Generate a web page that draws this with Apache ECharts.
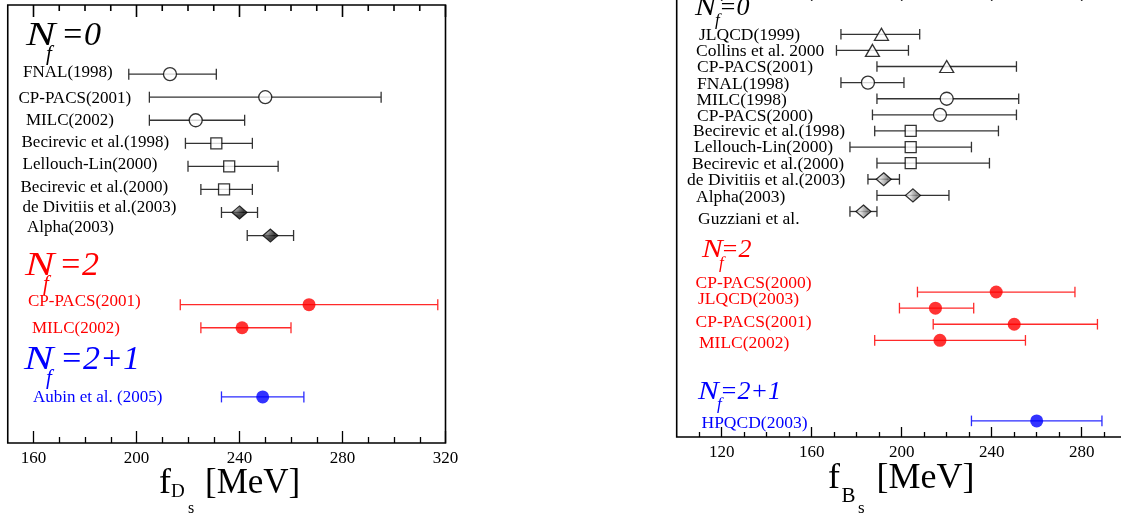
<!DOCTYPE html>
<html>
<head>
<meta charset="utf-8">
<title>f_Ds and f_Bs lattice results</title>
<script src="https://cdn.jsdelivr.net/npm/echarts@6/dist/echarts.min.js"></script>
<style>
  html, body { margin: 0; padding: 0; background: #fff; }
  #main { width: 1121px; height: 522px; }
</style>
</head>
<body>
<div id="main"></div>
<script>
// ---------- f_Ds (left panel), MeV ----------
const dsQuenchedNames = ['FNAL(1998)', 'CP-PACS(2001)', 'MILC(2002)', 'Becirevic et al.(1998)',
  'Lellouch-Lin(2000)', 'Becirevic et al.(2000)', 'de Divitiis et al.(2003)', 'Alpha(2003)'];
const dsQuenchedCentral = [213, 250, 223, 231, 236, 234, 240, 252];
const dsQuenchedLow     = [197, 205, 205, 219, 220, 225, 233, 243];
const dsQuenchedHigh    = [231, 295, 242, 245, 255, 245, 247, 261];
const dsQuenchedMarker  = ['circle', 'circle', 'circle', 'square', 'square', 'square', 'diamond', 'diamond'];
const dsQuenchedRow     = [3, 4, 5, 6, 7, 8, 9, 10];

const dsNf2Names   = ['CP-PACS(2001)', 'MILC(2002)'];
const dsNf2Central = [267, 241];
const dsNf2Low     = [217, 225];
const dsNf2High    = [317, 260];
const dsNf2Row     = [13, 14];

const dsNf21Names   = ['Aubin et al. (2005)'];
const dsNf21Central = [249];
const dsNf21Low     = [233];
const dsNf21High    = [265];
const dsNf21Row     = [17];

const dsMajorTicks = [160, 200, 240, 280, 320];
const dsMinorTicks = [170, 180, 190, 210, 220, 230, 250, 260, 270, 290, 300, 310];

// ---------- f_Bs (right panel), MeV ----------
const bsQuenchedNames = ['JLQCD(1999)', 'Collins et al. 2000', 'CP-PACS(2001)', 'FNAL(1998)', 'MILC(1998)',
  'CP-PACS(2000)', 'Becirevic et al.(1998)', 'Lellouch-Lin(2000)', 'Becirevic et al.(2000)',
  'de Divitiis et al.(2003)', 'Alpha(2003)', 'Guzziani et al.'];
const bsQuenchedCentral = [191, 187, 220, 185, 220, 217, 204, 204, 204, 192, 205, 183];
const bsQuenchedLow     = [173, 171, 189, 173, 189, 187, 188, 177, 189, 185, 189, 177];
const bsQuenchedHigh    = [208, 203, 251, 201, 252, 251, 243, 231, 239, 199, 221, 189];
const bsQuenchedMarker  = ['triangle', 'triangle', 'triangle', 'circle', 'circle', 'circle',
  'square', 'square', 'square', 'diamond', 'diamond', 'diamond'];
const bsQuenchedRow     = [2, 3, 4, 5, 6, 7, 8, 9, 10, 11, 12, 13];

const bsNf2Names   = ['CP-PACS(2000)', 'JLQCD(2003)', 'CP-PACS(2001)', 'MILC(2002)'];
const bsNf2Central = [242, 215, 250, 217];
const bsNf2Low     = [207, 199, 214, 188];
const bsNf2High    = [277, 232, 287, 255];
const bsNf2Row     = [18, 19, 20, 21];

const bsNf21Names   = ['HPQCD(2003)'];
const bsNf21Central = [260];
const bsNf21Low     = [231];
const bsNf21High    = [289];
const bsNf21Row     = [26];

const bsMajorTicks = [120, 160, 200, 240, 280];
const bsMinorTicks = [110, 130, 140, 150, 170, 180, 190, 210, 220, 230, 250, 260, 270, 290];

// ---------- layout and styling ----------
const SERIF = '"Liberation Serif", "DejaVu Serif", serif';
const BLACK = '#000';
const RED = '#ff0000';
const BLUE = '#0000ff';

// row ranges of the two panels (rows grow downwards)
const dsRowRange = [0, 19];
const bsRowRange = [-0.7, 27];

// label anchors (left edge, vertical middle) in pixels
const dsLabelPos = {
  quenched: [[23, 72.5], [18.5, 99], [26, 121], [21.5, 143], [22.5, 165], [20.5, 188], [22.5, 208], [27, 228]],
  nf2: [[28, 302], [32, 329]],
  nf21: [[33, 398]]
};
const bsLabelPos = {
  quenched: [[699, 35], [696, 51.5], [697, 67.5], [697, 84], [696.5, 100], [697, 116], [693, 131.5],
    [694, 147.5], [692, 164], [687, 180], [696, 197.5], [698, 219]],
  nf2: [[695.5, 283], [698, 299], [695.5, 322.5], [699, 343]],
  nf21: [[701.5, 423.5]]
};

function hatch(bg, fg, horiz) {
  const c = document.createElement('canvas');
  c.width = 3; c.height = 3;
  const g = c.getContext('2d');
  g.fillStyle = bg; g.fillRect(0, 0, 3, 3);
  g.fillStyle = fg; g.fillRect(0, 0, 1, 3);
  if (horiz) g.fillRect(0, 0, 3, 1);
  return c;
}
const darkHatch = { image: hatch('#9a9a9a', '#111', true), repeat: 'repeat' };
const lightHatch = { image: hatch('#e4e4e4', '#777', false), repeat: 'repeat' };

function markerItem(kind, value, hatchFill) {
  const open = { color: '#fff', borderColor: BLACK, borderWidth: 1.3 };
  if (kind === 'circle') return { value, symbol: 'circle', symbolSize: 13, itemStyle: open };
  if (kind === 'square') return { value, symbol: 'rect', symbolSize: 11, itemStyle: open };
  if (kind === 'triangle') return { value, symbol: 'triangle', symbolSize: [14, 12], itemStyle: open };
  return { value, symbol: 'diamond', symbolSize: [15, 13],
    itemStyle: { color: hatchFill, borderColor: BLACK, borderWidth: 1.2 } };
}

function errorBarRenderer(color, capHalf) {
  return function (params, api) {
    const row = api.value(2);
    const a = api.coord([api.value(0), row]);
    const b = api.coord([api.value(1), row]);
    const style = { stroke: color, lineWidth: 1.3, fill: null };
    return {
      type: 'group',
      children: [
        { type: 'line', shape: { x1: a[0], y1: a[1], x2: b[0], y2: b[1] }, style },
        { type: 'line', shape: { x1: a[0], y1: a[1] - capHalf, x2: a[0], y2: a[1] + capHalf }, style },
        { type: 'line', shape: { x1: b[0], y1: b[1] - capHalf, x2: b[0], y2: b[1] + capHalf }, style }
      ]
    };
  };
}

function errorSeries(low, high, rows, color, xi, yi, capHalf) {
  return {
    type: 'custom', xAxisIndex: xi, yAxisIndex: yi, z: 2, silent: true,
    renderItem: errorBarRenderer(color, capHalf),
    encode: { x: [0, 1], y: 2 },
    data: low.map((l, i) => [l, high[i], rows[i]])
  };
}

function markerSeries(central, rows, kinds, xi, yi, hatchFill) {
  return {
    type: 'scatter', xAxisIndex: xi, yAxisIndex: yi, z: 3, silent: true,
    data: central.map((c, i) => markerItem(kinds[i], [c, rows[i]], hatchFill))
  };
}

function filledSeries(central, rows, color, xi, yi, size) {
  return {
    type: 'scatter', xAxisIndex: xi, yAxisIndex: yi, z: 3, silent: true,
    symbol: 'circle', symbolSize: size, itemStyle: { color },
    data: central.map((c, i) => [c, rows[i]])
  };
}

function tickAxis(grid, min, max, values, len, withLabels) {
  return {
    type: 'value', gridIndex: grid, position: 'bottom', min, max,
    axisLine: { show: false, onZero: false },
    splitLine: { show: false },
    axisTick: { show: true, inside: true, length: len, customValues: values,
      lineStyle: { color: BLACK, width: 1.3 } },
    axisLabel: withLabels
      ? { show: true, customValues: values, margin: 7, color: BLACK, fontFamily: SERIF, fontSize: 17 }
      : { show: false }
  };
}

function textEl(str, x, y, size, color, italic, scaleX) {
  return {
    type: 'text', x, y, scaleX: scaleX || 1, silent: true,
    style: {
      text: str, fill: color, align: 'left', verticalAlign: 'middle',
      font: (italic ? 'italic ' : '') + size + 'px ' + SERIF
    }
  };
}

// "N_f = ..." heading: a wide N, lowered f, then the rest
function heading(rest, color, h) {
  return [
    textEl('N', h.nx, h.y, h.size, color, true, h.nscale),
    textEl('f', h.fx, h.fy, h.fsize, color, true),
    textEl(rest, h.rx, h.y, h.size, color, true)
  ];
}

function labelEls(names, pos, color, size) {
  return names.map((n, i) => textEl(n, pos[i][0], pos[i][1], size, color, false));
}

const textGraphics = [].concat(
  heading('=0', BLACK, { nx: 26, y: 36, size: 34, nscale: 1.3, fx: 46, fy: 54, fsize: 21, rx: 61 }),
  heading('=2', RED, { nx: 25, y: 266, size: 34, nscale: 1.3, fx: 43, fy: 284, fsize: 21, rx: 59 }),
  heading('=2+1', BLUE, { nx: 24, y: 360, size: 34, nscale: 1.3, fx: 46, fy: 378, fsize: 21, rx: 60 }),
  heading('=0', BLACK, { nx: 695, y: 8, size: 26, nscale: 1.2, fx: 715, fy: 21, fsize: 17, rx: 719 }),
  heading('=2', RED, { nx: 702, y: 250, size: 26, nscale: 1.2, fx: 719, fy: 264, fsize: 17, rx: 721 }),
  heading('=2+1', BLUE, { nx: 698, y: 392, size: 26, nscale: 1.2, fx: 717, fy: 405, fsize: 17, rx: 720 }),
  labelEls(dsQuenchedNames, dsLabelPos.quenched, BLACK, 17),
  labelEls(dsNf2Names, dsLabelPos.nf2, RED, 17),
  labelEls(dsNf21Names, dsLabelPos.nf21, BLUE, 17),
  labelEls(bsQuenchedNames, bsLabelPos.quenched, BLACK, 17.5),
  labelEls(bsNf2Names, bsLabelPos.nf2, RED, 17.5),
  labelEls(bsNf21Names, bsLabelPos.nf21, BLUE, 17.5),
  [
    // axis titles: f_{D_s} [MeV] and f_{B_s} [MeV]
    textEl('f', 159, 483.5, 36, BLACK, false),
    textEl('D', 171, 492, 19, BLACK, false),
    textEl('s', 188, 508.5, 16, BLACK, false),
    textEl('[MeV]', 205, 483.5, 35, BLACK, false),
    textEl('f', 828, 478.5, 36, BLACK, false),
    textEl('B', 841.5, 496, 21, BLACK, false),
    textEl('s', 858, 508.5, 17, BLACK, false),
    textEl('[MeV]', 876.5, 478.5, 36, BLACK, false)
  ]
);

const option = {
  backgroundColor: '#fff',
  animation: false,
  grid: [
    { left: 7.75, top: 5, width: 437.75, height: 438, show: true, borderColor: BLACK, borderWidth: 1.6,
      backgroundColor: 'transparent', containLabel: false, outerBoundsMode: 'none' },
    { left: 676.7, top: -9.2, width: 450, height: 446.2, show: true, borderColor: BLACK, borderWidth: 1.6,
      backgroundColor: 'transparent', containLabel: false, outerBoundsMode: 'none' }
  ],
  xAxis: [
    tickAxis(0, 150, 320, dsMajorTicks, 12, true),
    tickAxis(0, 150, 320, dsMinorTicks, 6, false),
    tickAxis(1, 100, 300, bsMajorTicks, 10, true),
    tickAxis(1, 100, 300, bsMinorTicks, 5, false)
  ],
  yAxis: [
    { type: 'value', gridIndex: 0, min: dsRowRange[0], max: dsRowRange[1], inverse: true, show: false },
    { type: 'value', gridIndex: 1, min: bsRowRange[0], max: bsRowRange[1], inverse: true, show: false }
  ],
  series: [
    errorSeries(dsQuenchedLow, dsQuenchedHigh, dsQuenchedRow, '#333', 0, 0, 5.5),
    markerSeries(dsQuenchedCentral, dsQuenchedRow, dsQuenchedMarker, 0, 0, darkHatch),
    errorSeries(dsNf2Low, dsNf2High, dsNf2Row, '#ff2a2a', 0, 0, 5.5),
    filledSeries(dsNf2Central, dsNf2Row, RED, 0, 0, 13),
    errorSeries(dsNf21Low, dsNf21High, dsNf21Row, '#2a2aff', 0, 0, 5.5),
    filledSeries(dsNf21Central, dsNf21Row, BLUE, 0, 0, 13),

    errorSeries(bsQuenchedLow, bsQuenchedHigh, bsQuenchedRow, '#333', 2, 1, 5.3),
    markerSeries(bsQuenchedCentral, bsQuenchedRow, bsQuenchedMarker, 2, 1, lightHatch),
    errorSeries(bsNf2Low, bsNf2High, bsNf2Row, '#ff2a2a', 2, 1, 5.3),
    filledSeries(bsNf2Central, bsNf2Row, RED, 2, 1, 13),
    errorSeries(bsNf21Low, bsNf21High, bsNf21Row, '#2a2aff', 2, 1, 5.3),
    filledSeries(bsNf21Central, bsNf21Row, BLUE, 2, 1, 13)
  ]
};

const chart = echarts.init(document.getElementById('main'), null, { renderer: 'canvas' });
chart.setOption(option);

// tick marks hanging down from each panel's top edge, placed through the axis scales
function topTicks(prefix, values, len, xi, yi, topRow) {
  const y = chart.convertToPixel({ yAxisIndex: yi }, topRow);
  return values.map((v, i) => {
    const x = chart.convertToPixel({ xAxisIndex: xi }, v);
    return { type: 'line', id: prefix + i, z: 60,
      shape: { x1: x, y1: y, x2: x, y2: y + len },
      style: { stroke: BLACK, lineWidth: 1.6 } };
  });
}

chart.setOption({
  graphic: [].concat(
    topTicks('dsMajor', dsMajorTicks, 12, 0, 0, dsRowRange[0]),
    topTicks('dsMinor', dsMinorTicks, 6, 0, 0, dsRowRange[0]),
    topTicks('bsMajor', bsMajorTicks, 10, 2, 1, bsRowRange[0]),
    topTicks('bsMinor', bsMinorTicks, 5, 2, 1, bsRowRange[0]),
    textGraphics
  )
});
</script>
</body>
</html>
